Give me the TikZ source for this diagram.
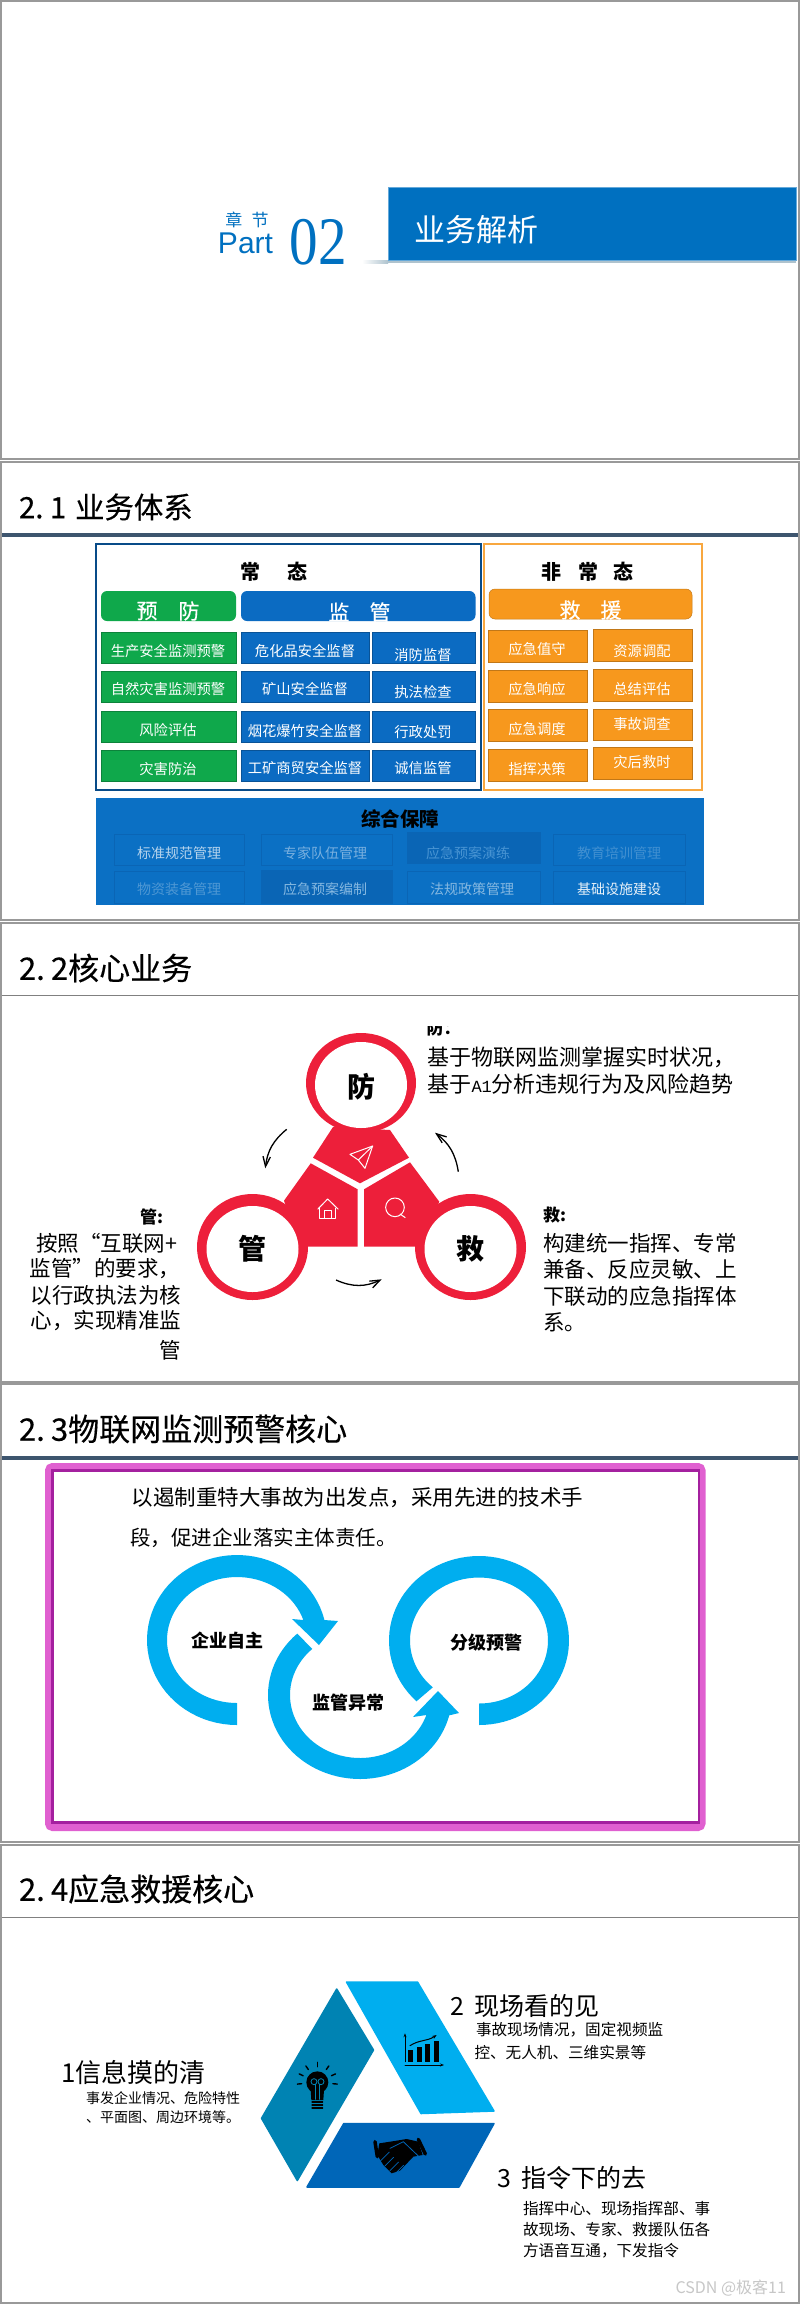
\documentclass[tikz,border=0pt]{standalone}
\usepackage{fontspec}
\setmainfont{Noto Sans CJK SC}
\newfontfamily\headfont[FakeBold=0.35]{Noto Sans CJK SC}
\newfontfamily\partfont{Liberation Sans}
\newfontfamily\numfont{Liberation Serif}
\newfontfamily\latinmono{Liberation Mono}
\usetikzlibrary{arrows.meta}
\newcommand{\fs}[1]{\fontsize{#1}{#1}\selectfont}
\definecolor{frameGray}{HTML}{999999}
\definecolor{slateLine}{HTML}{3D556E}
\definecolor{bandBlue}{HTML}{0070C0}
\definecolor{bandShade}{HTML}{AFC3CE}
\definecolor{cellGreen}{HTML}{0FA84B}
\definecolor{cellBlue}{HTML}{0B6BC2}
\definecolor{cellOrange}{HTML}{F7981D}
\definecolor{baseBlue}{HTML}{0B70C4}
\definecolor{baseDark}{HTML}{0A65B5}
\definecolor{coreRed}{HTML}{ED1F3A}
\definecolor{ringCyan}{HTML}{00AEEF}
\definecolor{triTeal}{HTML}{0083B3}
\definecolor{triBlue}{HTML}{0066B8}
\definecolor{edgeMagenta}{HTML}{E060D0}
\definecolor{coreMagenta}{HTML}{A4209F}
\tikzset{
  lbl/.style={inner sep=0pt,outer sep=0pt},
  cellbox/.style={draw=#1!78!black,line width=.6pt,fill=#1},
  celltxt/.style={lbl,text=white,font=\fs{14.3}},
  sectitle/.style={lbl,anchor=west,font=\headfont\fs{31}},
  flow/.style={-{Straight Barb[length=3.5mm,width=2.6mm]},line width=1.3pt,black}
}
\begin{document}
\begin{tikzpicture}[x=1pt,y=-1pt]
  \useasboundingbox (0,0) rectangle (800,2304);
  \fill[white] (0,0) rectangle (800,2304);
  \foreach \top/\bot in {1/459,462/919.5,923/1381.5,1384/1842,1845/2303}{
    \draw[frameGray,line width=2pt] (1,\top) rectangle (799,\bot);
  }
  \fill[slateLine] (2,533) rectangle (798,537);
  \fill[slateLine] (2,1456) rectangle (798,1459.5);
  \draw[gray,line width=1pt] (2,995.5)--(798,995.5);
  \draw[gray,line width=1pt] (2,1917.5)--(798,1917.5);
  \node[sectitle,font=\headfont\fs{29.4}] (titleA) at (19,507) {2.\hspace{.22em}1\hspace{.3em}业务体系};
  \node[sectitle] (titleB) at (19,968) {2.\hspace{.2em}2核心业务};
  \node[sectitle] (titleC) at (19,1429) {2.\hspace{.2em}3物联网监测预警核心};
  \node[sectitle] (titleD) at (19,1889) {2.\hspace{.2em}4应急救援核心};

  \shade[left color=white,right color=bandShade] (362,260) rectangle (388,263);
  \fill[bandShade] (388,260) rectangle (796,263);
  \draw[fill=bandBlue,draw=bandBlue!60!white,line width=.6pt] (388,187) rectangle (796,260);
  \node[lbl,text=white,font=\fs{31}] (partName) at (476,230) {业务解析};
  \node[lbl,text=bandBlue,font=\fs{17}] (partCn) at (247,219.5) {章\hspace{.55em}节};
  \node[lbl,text=bandBlue,font=\partfont\fs{30}] (partEn) at (245.5,243.5) {Part};
  \node[lbl,text=bandBlue,font=\numfont\fs{68},xscale=.84] (partNum) at (318.5,242.5) {02};

  \draw[line width=1.8pt,draw=cellBlue!70!black] (96,544) rectangle (481,790);
  \draw[line width=1.8pt,draw=cellOrange!85!white] (484,544) rectangle (702,790);
  \foreach \x/\t [count=\i] in {250/常,297/态,551/非,588/常,623/态}{
    \node[lbl,font=\bfseries\fs{20}] (st\i) at (\x,572) {\t};
  }
  \fill[cellGreen,rounded corners=6pt] (101,591) rectangle (236,621);
  \fill[cellBlue,rounded corners=6pt] (241,591) rectangle (475.5,621);
  \draw[cellOrange!80!black,fill=cellOrange,rounded corners=6pt,line width=.5pt] (489,589) rectangle (692,619);
  \foreach \x/\y/\t [count=\i] in {147/611/预,189/611/防,339/612/监,380/612/管,570/610/救,611/610/援}{
    \node[lbl,text=white,font=\headfont\fs{21}] (hd\i) at (\x,\y) {\t};
  }
  \foreach \ya/\yb/\ty/\t [count=\i] in {632/663/651/生产安全监测预警,671/702/689/自然灾害监测预警,711/742/730/风险评估,750/781/769/灾害防治}{
    \draw[cellbox=cellGreen] (101,\ya) rectangle (236,\yb);
    \node[celltxt] (pre\i) at (168,\ty) {\t};
  }
  \foreach \ya/\yb/\ty/\t [count=\i] in {632/663/651/危化品安全监督,671/702/689/矿山安全监督,711/742/731/烟花爆竹安全监督,750/781/768/工矿商贸安全监督}{
    \draw[cellbox=cellBlue] (241,\ya) rectangle (369,\yb);
    \node[celltxt] (sup\i) at (305,\ty) {\t};
  }
  \foreach \ya/\yb/\ty/\t [count=\i] in {632/663/655/消防监督,671/702/692/执法检查,711/742/732/行政处罚,750/781/768/诚信监管}{
    \draw[cellbox=cellBlue] (372.5,\ya) rectangle (475.5,\yb);
    \node[celltxt] (law\i) at (423,\ty) {\t};
  }
  \foreach \ya/\yb/\ty/\t [count=\i] in {630/662/649/应急值守,670/702/689/应急响应,709/741/729/应急调度,749/781/769/指挥决策}{
    \draw[cellbox=cellOrange] (488,\ya) rectangle (587,\yb);
    \node[celltxt] (res\i) at (537,\ty) {\t};
  }
  \foreach \ya/\yb/\ty/\t [count=\i] in {629/661/651/资源调配,669/701/689/总结评估,709/740/724/事故调查,747/779/762/灾后救时}{
    \draw[cellbox=cellOrange] (593,\ya) rectangle (692,\yb);
    \node[celltxt] (aft\i) at (642,\ty) {\t};
  }

  \fill[baseBlue] (96,798) rectangle (704,905);
  \node[lbl,font=\bfseries\fs{19.5}] (baseTitle) at (400,819) {综合保障};
  \foreach \xa/\xb/\ya/\yb/\tx/\ty/\t/\tone/\bg [count=\i] in {
    114/244/834/865/179/853/标准规范管理/70/baseBlue,
    261/392/834/865/325/853/专家队伍管理/45/baseBlue,
    407/540/832/863/468/853/应急预案演练/25/baseDark,
    553/685/834/865/619/853/教育培训管理/22/baseBlue,
    114/244/871/903/179/889/物资装备管理/28/baseBlue,
    261/392/870/903/325/889/应急预案编制/50/baseDark,
    407/540/871/903/472/889/法规政策管理/50/baseBlue,
    553/685/871/903/619/889/基础设施建设/90/baseBlue}{
    \draw[baseDark,fill=\bg,line width=.5pt] (\xa,\ya) rectangle (\xb,\yb);
    \node[lbl,text=white!\tone!baseBlue,font=\fs{14}] (base\i) at (\tx,\ty) {\t};
  }

  \fill[coreRed] (333,1127)--(313,1157.7)--(360,1183.3)--(409,1157.7)--(390,1130)--cycle;
  \fill[coreRed] (310.7,1163.3)--(357.7,1189.3)--(357.7,1246.7)--(300,1246.7)--(284,1200.7)--cycle;
  \fill[coreRed] (410,1162.3)--(364,1189.3)--(364,1246.7)--(420,1246.7)--(439.3,1201.7)--cycle;
  \foreach \x/\y/\rx/\ry/\t [count=\i] in {361/1083/55/50/防,252.5/1247/55.5/53/管,470.5/1247/55.5/53/救}{
    \fill[coreRed] (\x,\y) ellipse [x radius=\rx,y radius=\ry];
    \fill[white] (\x,\y+2) ellipse [x radius=46,y radius=43];
  }
  \node[lbl,font=\bfseries\fs{28}] (keyA) at (361,1087) {防};
  \node[lbl,font=\bfseries\fs{28}] (keyB) at (252.5,1249) {管};
  \node[lbl,font=\bfseries\fs{28}] (keyC) at (470,1249) {救};
  \begin{scope}[shift={(180,990)},x=.3333pt,y=-.3333pt,white,line width=1pt,line join=round]
    \draw (578,468)--(510,493)--(535,510)--(555,535)--cycle;
    \draw (578,468)--(535,510);
    \draw (413,658)--(443,627)--(475,658);
    \draw (420,655)--(420,687)--(468,687)--(468,655);
    \draw (435,687)--(435,662)--(455,662)--(455,687);
    \draw (645,652) circle [radius=28];
    \draw (660,672)--(676,683);
  \end{scope}
  \coordinate (preOut) at (286.7,1129.3);
  \coordinate (preIn) at (265.3,1168.3);
  \coordinate (resOut) at (458.3,1171.7);
  \coordinate (resIn) at (435,1132.7);
  \coordinate (supOut) at (336,1280);
  \coordinate (supIn) at (381.7,1279.3);
  \draw[flow] (preOut) to[bend right=22] (preIn);
  \draw[flow] (resOut) to[bend right=22] (resIn);
  \draw[flow] (supOut) to[bend right=25] (supIn);

  \begin{scope}
    \clip (420,1026.5) rectangle (470,1038);
    \node[lbl,anchor=west,font=\bfseries\fs{17}] (capA) at (426.5,1028) {防：};
  \end{scope}
  \node[lbl,anchor=west,font=\fs{22}] (txtA) at (427.5,1057) {基于物联网监测掌握实时状况，};
  \node[lbl,anchor=west,font=\fs{22}] (txtB) at (427.5,1084) {基于{\latinmono\fs{17}A1}分析违规行为及风险趋势};
  \node[lbl,anchor=west,font=\bfseries\fs{17}] (capC) at (543,1215) {救:};
  \foreach \y/\t [count=\i] in {1243/构建统一指挥、专常,1269/兼备、反应灵敏、上,1296/下联动的应急指挥体,1322/系。}{
    \node[lbl,anchor=west,font=\fs{21.5}] (rescue\i) at (543,\y) {\t};
  }
  \node[lbl,anchor=east,font=\bfseries\fs{17}] (capB) at (163,1217) {管:};
  \foreach \x/\y/\t [count=\i] in {177/1243/按照“互联网+,180/1269/监管”的要求，,181/1295/以行政执法为核,181/1321/心，实现精准监,181/1350/管}{
    \node[lbl,anchor=east,font=\fs{21.5}] (manage\i) at (\x,\y) {\t};
  }

  \draw[edgeMagenta,line width=7pt,rounded corners=4pt] (48.5,1466.5) rectangle (702,1827.5);
  \draw[coreMagenta,line width=2.5pt] (52.5,1470.7) rectangle (699,1822.7);
  \node[lbl,anchor=west,font=\fs{21.5}] (goalA) at (131.5,1498) {以遏制重特大事故为出发点，采用先进的技术手};
  \node[lbl,anchor=west,font=\fs{20.5}] (goalB) at (130,1538) {段，促进企业落实主体责任。};
  \fill[ringCyan] plot[domain=90:346.4,samples=60] ({237+90*cos(\x)},{1640+85*sin(\x)})
    --(338,1621)--(319,1645)--(292,1619)
    --plot[domain=341.5:90,samples=60] ({237+70*cos(\x)},{1640+63*sin(\x)})--cycle;
  \fill[ringCyan] plot[domain=227:14,samples=60] ({360+92*cos(\x)},{1695+84*sin(\x)})
    --(459,1713)--(438,1691)--(413,1717)
    --plot[domain=18.5:227,samples=60] ({360+70*cos(\x)},{1695+63*sin(\x)})--cycle;
  \fill[ringCyan] plot[domain=90:-226,samples=80] ({479+90*cos(\x)},{1640.5+84.5*sin(\x)})
    --plot[domain=-228:90,samples=80] ({479+69*cos(\x)},{1640.5+63*sin(\x)})--cycle;
  \node[lbl,font=\bfseries\fs{18}] (stepA) at (227,1640.5) {企业自主};
  \node[lbl,font=\bfseries\fs{18}] (stepB) at (348.5,1703) {监管异常};
  \node[lbl,font=\bfseries\fs{18}] (stepC) at (486,1643) {分级预警};

  \fill[ringCyan,draw=ringCyan,line width=1.5pt,line join=round] (346.5,1982)--(417.5,1982)--(494,2111)--(421,2113.5)--cycle;
  \fill[triTeal,draw=triTeal,line width=1.5pt,line join=round] (336.7,1989)--(373.5,2050)--(297.3,2180.5)--(261.5,2118.3)--cycle;
  \fill[triBlue,draw=triBlue,line width=1.5pt,line join=round] (343.8,2123.5)--(494,2123.5)--(459,2187)--(307,2187)--cycle;
  \begin{scope}[shift={(240,1900)},x=.3333pt,y=-.3333pt,black,line cap=round]
    \fill (232,547) circle [radius=33];
    \fill (212,570)--(252,570)--(250,600)--(214,600)--cycle;
    \foreach \a in {-5,25,55,90,125,155,185}{
      \draw[line width=1.4pt] ({232+47*cos(\a)},{547-47*sin(\a)})--({232+60*cos(\a)},{547-60*sin(\a)});
    }
    \foreach \y in {606,615,624}{
      \draw[line width=1.3pt] (216,\y)--(248,\y);
    }
    \draw[triTeal,line width=.8pt] (222,545) circle [radius=9];
    \draw[triTeal,line width=.8pt] (243,545) circle [radius=9];
    \draw[triTeal,line width=.8pt] (226,553)--(226,598);
    \draw[triTeal,line width=.8pt] (239,553)--(239,598);
    \draw[line width=.8pt,-{Stealth[length=1.4mm]}] (495,485)--(495,400);
    \draw[line width=.8pt,-{Stealth[length=1.4mm]}] (495,495)--(612,495);
    \foreach \xa/\xb/\ya in {505/520/450,530/545/440,556/570/432,582/596/424}{
      \fill (\xa,\ya) rectangle (\xb,485);
    }
    \draw[line width=1pt,-{Stealth[length=1.6mm]}] (510,437) .. controls (540,418) and (560,425) .. (590,405);
    \fill (418,730)--(470,722)--(500,717)--(535,725)--(548,765)--(520,770)--(480,812)--(455,820)--(430,795)--(412,765)--cycle;
    \draw[line width=3.5pt] (405,725)--(412,770);
    \draw[line width=3.5pt] (535,718)--(556,762);
    \draw[triBlue,line width=.8pt] (450,745)--(490,725)--(535,768);
    \foreach \xa/\ya in {422/782,435/798,450/812,465/822}{
      \draw[triBlue,line width=.7pt] (\xa,\ya)--(\xa+26,\ya-26);
    }
  \end{scope}
  \node[lbl,anchor=west,font=\fs{25}] (sumB) at (450,2006) {2\hspace{.42em}现场看的见};
  \node[lbl,anchor=west,font=\fs{15.6}] (sumBa) at (476,2030) {事故现场情况，固定视频监};
  \node[lbl,anchor=west,font=\fs{15.6}] (sumBb) at (474.5,2052) {控、无人机、三维实景等};
  \node[lbl,anchor=west,font=\fs{26}] (sumA) at (61,2073) {1信息摸的清};
  \node[lbl,anchor=west,font=\fs{14}] (sumAa) at (86,2098) {事发企业情况、危险特性};
  \node[lbl,anchor=west,font=\fs{14}] (sumAb) at (86,2116.7) {、平面图、周边环境等。};
  \node[lbl,anchor=west,font=\fs{25}] (sumC) at (497.5,2178) {3\hspace{.42em}指令下的去};
  \foreach \y/\t [count=\i] in {2209/指挥中心、现场指挥部、事,2230/故现场、专家、救援队伍各,2250.7/方语音互通，下发指令}{
    \node[lbl,anchor=west,font=\fs{15.6}] (sumCa\i) at (523,\y) {\t};
  }
  \node[lbl,anchor=east,text=black!22,font=\fs{16}] (mark) at (786,2288) {CSDN @极客11};
\end{tikzpicture}
\end{document}
